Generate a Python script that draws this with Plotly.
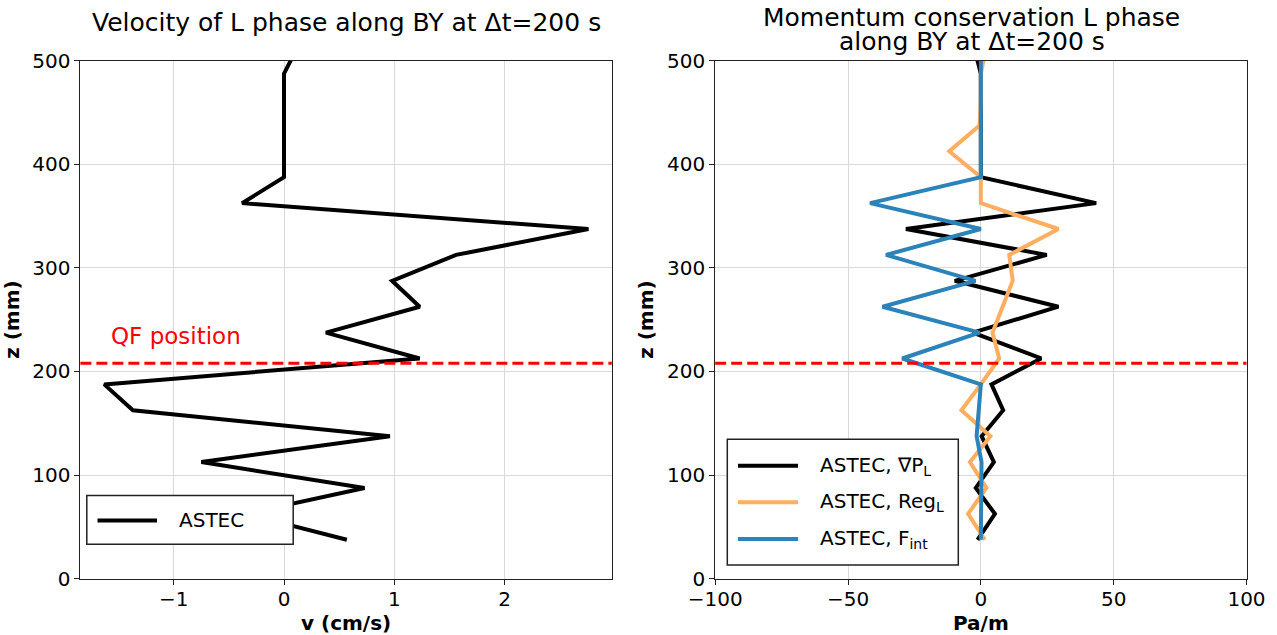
import plotly.graph_objects as go

# ---------------- data ----------------
z_mm = [37.5, 62.5, 87.5, 112.5, 137.5, 162.5, 187.5, 212.5, 237.5, 262.5,
        287.5, 312.5, 337.5, 362.5, 387.5, 412.5, 437.5, 462.5, 487.5, 512.5]

v_astec = [0.57, -0.35, 0.73, -0.75, 0.96, -1.37, -1.63, 1.23, 0.38, 1.23,
           0.98, 1.56, 2.76, -0.38, 0.0, 0.0, 0.0, 0.0, 0.0, 0.12]

grad_p = [-1.25, 5.3, -1.9, 4.9, 0.3, 8.4, 4.0, 22.7, -3.0, 29.2,
          -9.8, 24.8, -28.2, 43.4, 0.0, 0.0, 0.0, 0.0, 0.0, -2.5]
reg_l = [1.5, -4.8, 2.1, -4.1, 3.6, -7.3, 0.0, 6.9, 4.4, 8.2,
         12.0, 10.7, 29.2, 0.0, 0.0, -11.9, -0.5, 0.0, 0.0, 2.0]
f_int = [0.0, 0.0, 0.0, 0.25, -1.6, -0.75, 0.0, -29.6, -0.5, -37.0,
         -2.0, -35.7, 0.0, -41.7, 0.0, 0.0, 0.0, 0.0, 0.0, 0.0]

qf_z = 208
left_title = "Velocity of L phase along BY at Δt=200 s"
right_title_lines = ["Momentum conservation L phase", "along BY at Δt=200 s"]
left_legend = ["ASTEC"]
right_legend = ["ASTEC, ∇P<sub>L</sub>", "ASTEC, Reg<sub>L</sub>", "ASTEC, F<sub>int</sub>"]
right_colors = ["#000000", "#fdae61", "#2b83ba"]

# ---------------- layout helpers ----------------
W, H = 1277, 635
FONT = "DejaVu Sans"


def px(x):
    return x / W


def py(y):
    return 1 - y / H


fig = go.Figure()

fig.add_trace(go.Scatter(x=v_astec, y=z_mm, mode="lines", xaxis="x", yaxis="y",
                         line=dict(color="black", width=4), showlegend=False))
for vals, col in zip([grad_p, reg_l, f_int], right_colors):
    fig.add_trace(go.Scatter(x=vals, y=z_mm, mode="lines", xaxis="x2", yaxis="y2",
                             line=dict(color=col, width=4), showlegend=False))

ydom = [py(578.6), py(60.7)]
axis_common = dict(showgrid=True, gridcolor="#d9d9d9", gridwidth=1,
                   showline=True, linecolor="#222222", linewidth=1, mirror=True,
                   ticks="outside", ticklen=5, tickcolor="#222222", tickwidth=1,
                   zeroline=False, automargin=False,
                   tickfont=dict(family=FONT, size=20, color="black"))
title_font = dict(family=FONT, size=20, weight="bold", color="black")

fig.update_layout(
    width=W, height=H,
    margin=dict(l=0, r=0, t=0, b=0, autoexpand=False),
    paper_bgcolor="white", plot_bgcolor="white",
    showlegend=False,
    font=dict(family=FONT, color="black"),
    xaxis=dict(domain=[px(80.4), px(611.8)], range=[-1.846, 2.972],
               tickvals=[-1, 0, 1, 2], anchor="y", ticklabelstandoff=-3,
               title=dict(text="v (cm/s)", font=title_font, standoff=5),
               **axis_common),
    yaxis=dict(domain=ydom, range=[0, 500], tickvals=[0, 100, 200, 300, 400, 500], anchor="x",
               title=dict(text="z (mm)", font=title_font, standoff=8),
               **axis_common),
    xaxis2=dict(domain=[px(715.2), px(1246.5)], range=[-100, 100],
                tickvals=[-100, -50, 0, 50, 100], anchor="y2", ticklabelstandoff=-3,
                title=dict(text="Pa/m", font=title_font, standoff=5),
                **axis_common),
    yaxis2=dict(domain=ydom, range=[0, 500], tickvals=[0, 100, 200, 300, 400, 500], anchor="x2",
                title=dict(text="z (mm)", font=title_font, standoff=8),
                **axis_common),
)

shapes = []
# QF position lines
for xr, yr in [("x domain", "y"), ("x2 domain", "y2")]:
    shapes.append(dict(type="line", xref=xr, yref=yr, x0=0, x1=1, y0=qf_z, y1=qf_z,
                       line=dict(color="#ff0000", width=3, dash="11px,5px"), layer="above"))

# left legend
shapes.append(dict(type="rect", xref="paper", yref="paper",
                   x0=px(86.8), x1=px(293.2), y0=py(544.3), y1=py(495.4),
                   fillcolor="white", line=dict(color="#222222", width=1.5), layer="above"))
shapes.append(dict(type="line", xref="paper", yref="paper",
                   x0=px(97.5), x1=px(157), y0=py(520.4), y1=py(520.4),
                   line=dict(color="black", width=4), layer="above"))

# right legend
shapes.append(dict(type="rect", xref="paper", yref="paper",
                   x0=px(727.3), x1=px(958.3), y0=py(565), y1=py(439.3),
                   fillcolor="white", line=dict(color="#222222", width=1.5), layer="above"))
row_y = [465.7, 502.3, 539.0]
for yy, col in zip(row_y, right_colors):
    shapes.append(dict(type="line", xref="paper", yref="paper",
                       x0=px(738), x1=px(798), y0=py(yy), y1=py(yy),
                       line=dict(color=col, width=4), layer="above"))

annotations = []
annotations.append(dict(text=left_legend[0], xref="paper", yref="paper", x=px(177), y=py(520.4),
                        xanchor="left", yanchor="middle", showarrow=False,
                        font=dict(family=FONT, size=20, color="black")))
for yy, txt in zip(row_y, right_legend):
    annotations.append(dict(text=txt, xref="paper", yref="paper", x=px(818), y=py(yy),
                            xanchor="left", yanchor="middle", showarrow=False,
                            font=dict(family=FONT, size=20, color="black")))

# QF label
annotations.append(dict(text="QF position", xref="x", yref="y", x=-1.585, y=234,
                        xanchor="left", yanchor="middle", showarrow=False,
                        font=dict(family=FONT, size=23, color="#ff0000")))

# titles
annotations.append(dict(text=left_title, xref="x domain", yref="paper", x=0.5, y=py(22),
                        xanchor="center", yanchor="middle", showarrow=False,
                        font=dict(family=FONT, size=25, color="black")))
for yy, txt in zip([18, 42], right_title_lines):
    annotations.append(dict(text=txt, xref="x2 domain", yref="paper", x=0.483, y=py(yy),
                            xanchor="center", yanchor="middle", showarrow=False,
                            font=dict(family=FONT, size=25, color="black")))

fig.update_layout(shapes=shapes, annotations=annotations)

fig.write_html("out.html")
